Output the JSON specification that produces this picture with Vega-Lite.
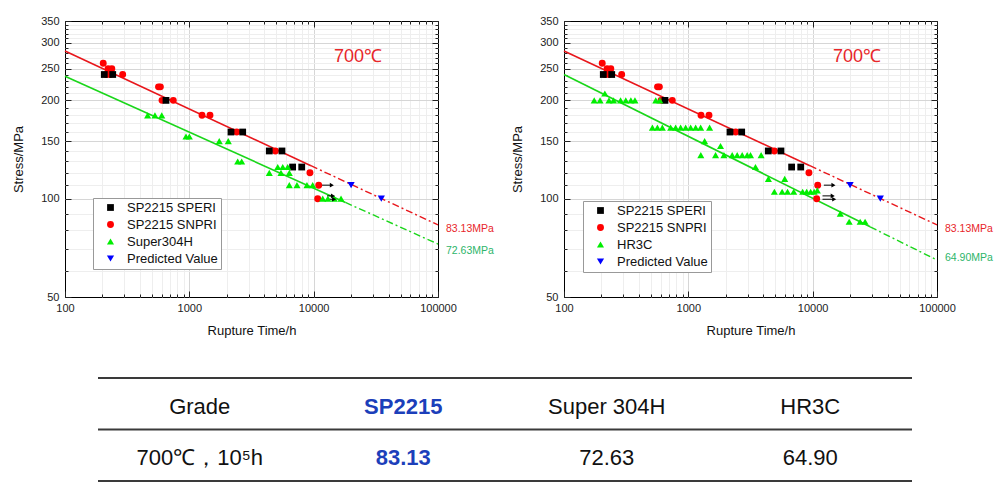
{
 "$schema": "https://vega.github.io/schema/vega-lite/v6.json",
 "background": "white",
 "padding": {"left": 11, "top": 14, "right": 5, "bottom": 5},
 "config": {
  "view": {"stroke": "#000000", "strokeWidth": 1},
  "axis": {"labelFont": "Liberation Sans", "labelFontSize": 11, "labelColor": "#222222", "titleFont": "Liberation Sans", "titleFontSize": 13, "titleFontWeight": "normal", "titleColor": "#111111", "tickColor": "#222222", "tickWidth": 1},
  "legend": {"labelFont": "Liberation Sans", "labelFontSize": 13, "labelColor": "#111111"},
  "text": {"font": "Liberation Sans"}
 },
 "datasets": {
  "pts1": [
   {"series": "SP2215 SNPRI", "t": 203, "s": 260}, {"series": "SP2215 SNPRI", "t": 222, "s": 250}, {"series": "SP2215 SNPRI", "t": 238, "s": 250},
   {"series": "SP2215 SNPRI", "t": 215, "s": 240}, {"series": "SP2215 SNPRI", "t": 230, "s": 240}, {"series": "SP2215 SNPRI", "t": 291, "s": 240},
   {"series": "SP2215 SNPRI", "t": 565, "s": 220}, {"series": "SP2215 SNPRI", "t": 585, "s": 220}, {"series": "SP2215 SNPRI", "t": 603, "s": 200},
   {"series": "SP2215 SNPRI", "t": 743, "s": 200}, {"series": "SP2215 SNPRI", "t": 1265, "s": 180}, {"series": "SP2215 SNPRI", "t": 1466, "s": 180},
   {"series": "SP2215 SNPRI", "t": 2405, "s": 160}, {"series": "SP2215 SNPRI", "t": 4920, "s": 140}, {"series": "SP2215 SNPRI", "t": 9333, "s": 120},
   {"series": "SP2215 SNPRI", "t": 10980, "s": 110}, {"series": "SP2215 SNPRI", "t": 10770, "s": 100},
   {"series": "SP2215 SPERI", "t": 207, "s": 240}, {"series": "SP2215 SPERI", "t": 242, "s": 240}, {"series": "SP2215 SPERI", "t": 649, "s": 200},
   {"series": "SP2215 SPERI", "t": 2163, "s": 160}, {"series": "SP2215 SPERI", "t": 2686, "s": 160}, {"series": "SP2215 SPERI", "t": 4396, "s": 140},
   {"series": "SP2215 SPERI", "t": 5559, "s": 140}, {"series": "SP2215 SPERI", "t": 6773, "s": 125}, {"series": "SP2215 SPERI", "t": 8017, "s": 125},
   {"series": "Super304H", "t": 462, "s": 180}, {"series": "Super304H", "t": 529, "s": 180}, {"series": "Super304H", "t": 600, "s": 180},
   {"series": "Super304H", "t": 940, "s": 155}, {"series": "Super304H", "t": 1000, "s": 155}, {"series": "Super304H", "t": 1741, "s": 150},
   {"series": "Super304H", "t": 2057, "s": 150}, {"series": "Super304H", "t": 2449, "s": 130}, {"series": "Super304H", "t": 2636, "s": 130},
   {"series": "Super304H", "t": 4396, "s": 120}, {"series": "Super304H", "t": 5140, "s": 125}, {"series": "Super304H", "t": 5640, "s": 125},
   {"series": "Super304H", "t": 6180, "s": 125}, {"series": "Super304H", "t": 5460, "s": 120}, {"series": "Super304H", "t": 6370, "s": 120},
   {"series": "Super304H", "t": 6370, "s": 110}, {"series": "Super304H", "t": 7340, "s": 110}, {"series": "Super304H", "t": 8830, "s": 110},
   {"series": "Super304H", "t": 9820, "s": 110}, {"series": "Super304H", "t": 11820, "s": 100}, {"series": "Super304H", "t": 13000, "s": 100},
   {"series": "Super304H", "t": 14650, "s": 100}, {"series": "Super304H", "t": 16600, "s": 100},
   {"series": "Predicted Value", "t": 20000, "s": 110}, {"series": "Predicted Value", "t": 35000, "s": 100}
  ],
  "pts2": [
   {"series": "SP2215 SNPRI", "t": 203, "s": 260}, {"series": "SP2215 SNPRI", "t": 222, "s": 250}, {"series": "SP2215 SNPRI", "t": 238, "s": 250},
   {"series": "SP2215 SNPRI", "t": 215, "s": 240}, {"series": "SP2215 SNPRI", "t": 230, "s": 240}, {"series": "SP2215 SNPRI", "t": 291, "s": 240},
   {"series": "SP2215 SNPRI", "t": 565, "s": 220}, {"series": "SP2215 SNPRI", "t": 585, "s": 220}, {"series": "SP2215 SNPRI", "t": 603, "s": 200},
   {"series": "SP2215 SNPRI", "t": 743, "s": 200}, {"series": "SP2215 SNPRI", "t": 1265, "s": 180}, {"series": "SP2215 SNPRI", "t": 1466, "s": 180},
   {"series": "SP2215 SNPRI", "t": 2405, "s": 160}, {"series": "SP2215 SNPRI", "t": 4920, "s": 140}, {"series": "SP2215 SNPRI", "t": 9333, "s": 120},
   {"series": "SP2215 SNPRI", "t": 10980, "s": 110}, {"series": "SP2215 SNPRI", "t": 10770, "s": 100},
   {"series": "SP2215 SPERI", "t": 207, "s": 240}, {"series": "SP2215 SPERI", "t": 242, "s": 240}, {"series": "SP2215 SPERI", "t": 649, "s": 200},
   {"series": "SP2215 SPERI", "t": 2163, "s": 160}, {"series": "SP2215 SPERI", "t": 2686, "s": 160}, {"series": "SP2215 SPERI", "t": 4396, "s": 140},
   {"series": "SP2215 SPERI", "t": 5559, "s": 140}, {"series": "SP2215 SPERI", "t": 6773, "s": 125}, {"series": "SP2215 SPERI", "t": 8017, "s": 125},
   {"series": "HR3C", "t": 175, "s": 200}, {"series": "HR3C", "t": 195, "s": 200}, {"series": "HR3C", "t": 230, "s": 200},
   {"series": "HR3C", "t": 250, "s": 200}, {"series": "HR3C", "t": 285, "s": 200}, {"series": "HR3C", "t": 314, "s": 200},
   {"series": "HR3C", "t": 345, "s": 200}, {"series": "HR3C", "t": 372, "s": 200}, {"series": "HR3C", "t": 547, "s": 200},
   {"series": "HR3C", "t": 590, "s": 200}, {"series": "HR3C", "t": 213, "s": 210},
   {"series": "HR3C", "t": 514, "s": 165}, {"series": "HR3C", "t": 564, "s": 165}, {"series": "HR3C", "t": 618, "s": 165},
   {"series": "HR3C", "t": 721, "s": 165}, {"series": "HR3C", "t": 791, "s": 165}, {"series": "HR3C", "t": 867, "s": 165},
   {"series": "HR3C", "t": 952, "s": 165}, {"series": "HR3C", "t": 1044, "s": 165}, {"series": "HR3C", "t": 1145, "s": 165},
   {"series": "HR3C", "t": 1256, "s": 165}, {"series": "HR3C", "t": 1483, "s": 165},
   {"series": "HR3C", "t": 1352, "s": 150}, {"series": "HR3C", "t": 1815, "s": 145},
   {"series": "HR3C", "t": 1260, "s": 136}, {"series": "HR3C", "t": 1656, "s": 136}, {"series": "HR3C", "t": 1933, "s": 136},
   {"series": "HR3C", "t": 2253, "s": 136}, {"series": "HR3C", "t": 2472, "s": 136}, {"series": "HR3C", "t": 2711, "s": 136},
   {"series": "HR3C", "t": 2974, "s": 136}, {"series": "HR3C", "t": 3162, "s": 136}, {"series": "HR3C", "t": 3850, "s": 136},
   {"series": "HR3C", "t": 3467, "s": 125}, {"series": "HR3C", "t": 4405, "s": 115}, {"series": "HR3C", "t": 5960, "s": 115},
   {"series": "HR3C", "t": 4920, "s": 105}, {"series": "HR3C", "t": 5680, "s": 105}, {"series": "HR3C", "t": 6280, "s": 105},
   {"series": "HR3C", "t": 7040, "s": 105}, {"series": "HR3C", "t": 8310, "s": 105}, {"series": "HR3C", "t": 8950, "s": 105},
   {"series": "HR3C", "t": 9630, "s": 105}, {"series": "HR3C", "t": 10280, "s": 105}, {"series": "HR3C", "t": 10900, "s": 106},
   {"series": "HR3C", "t": 16680, "s": 90}, {"series": "HR3C", "t": 19660, "s": 85}, {"series": "HR3C", "t": 24100, "s": 85},
   {"series": "HR3C", "t": 26400, "s": 85},
   {"series": "Predicted Value", "t": 20000, "s": 110}, {"series": "Predicted Value", "t": 35000, "s": 100}
  ],
  "lines1": [
   {"fit": "SP2215", "part": "solid", "t": 100, "s": 283.3}, {"fit": "SP2215", "part": "solid", "t": 9500, "s": 126.2},
   {"fit": "SP2215", "part": "dash", "t": 9500, "s": 126.2}, {"fit": "SP2215", "part": "dash", "t": 100000, "s": 83.13},
   {"fit": "other", "part": "solid", "t": 100, "s": 237}, {"fit": "other", "part": "solid", "t": 18000, "s": 97.4},
   {"fit": "other", "part": "dash", "t": 18000, "s": 97.4}, {"fit": "other", "part": "dash", "t": 100000, "s": 72.63}
  ],
  "lines2": [
   {"fit": "SP2215", "part": "solid", "t": 100, "s": 283.3}, {"fit": "SP2215", "part": "solid", "t": 9500, "s": 126.2},
   {"fit": "SP2215", "part": "dash", "t": 9500, "s": 126.2}, {"fit": "SP2215", "part": "dash", "t": 100000, "s": 83.13},
   {"fit": "other", "part": "solid", "t": 100, "s": 240}, {"fit": "other", "part": "solid", "t": 29000, "s": 82.0},
   {"fit": "other", "part": "dash", "t": 29000, "s": 82.0}, {"fit": "other", "part": "dash", "t": 100000, "s": 64.9}
  ],
  "arrows1": [
   {"s": 110, "t1": 11600, "t2": 14000}, {"s": 102, "t1": 12800, "t2": 14300}, {"s": 99.6, "t1": 12800, "t2": 14600}
  ],
  "arrows2": [
   {"s": 110, "t1": 12300, "t2": 14700}, {"s": 102, "t1": 12000, "t2": 14500}, {"s": 99.6, "t1": 12000, "t2": 14900}
  ],
  "notes": [
   {"t": 22700, "s": 272, "label": "700℃"}
  ],
  "table": [
   {"row": "head", "col": "Grade", "label": "Grade"},
   {"row": "head", "col": "SP2215", "label": "SP2215"},
   {"row": "head", "col": "Super 304H", "label": "Super 304H"},
   {"row": "head", "col": "HR3C", "label": "HR3C"},
   {"row": "val", "col": "Grade", "label": "700℃，10⁵h"},
   {"row": "val", "col": "SP2215", "label": "83.13"},
   {"row": "val", "col": "Super 304H", "label": "72.63"},
   {"row": "val", "col": "HR3C", "label": "64.90"}
  ],
  "tableLines": [{"pos": 0}, {"pos": 1}, {"pos": 2}]
 },
 "bounds": "full",
 "spacing": 39,
 "vconcat": [
  {
   "bounds": "flush",
   "spacing": 126,
   "resolve": {"scale": {"color": "independent", "shape": "independent", "size": "independent"}, "legend": {"color": "independent", "shape": "independent"}},
   "hconcat": [
    {
     "width": 373, "height": 276,
     "resolve": {"axis": {"x": "independent", "y": "independent"}},
     "layer": [
      {
       "data": {"name": "lines1"},
       "transform": [{"filter": "datum.fit == 'SP2215' && datum.part == 'solid'"}],
       "mark": {"type": "line", "color": "#e8161b", "strokeWidth": 1.6},
       "encoding": {
        "x": {"field": "t", "type": "quantitative", "scale": {"type": "log", "domain": [100, 100000], "nice": false},
              "axis": {"orient": "bottom", "values": [200,300,400,500,600,700,800,900,2000,3000,4000,5000,6000,7000,8000,9000,20000,30000,40000,50000,60000,70000,80000,90000], "grid": true, "gridColor": "#eeeeee", "ticks": true, "tickSize": -3, "labels": false, "domain": false, "title": null}},
        "y": {"field": "s", "type": "quantitative", "scale": {"type": "log", "domain": [50, 350], "nice": false},
              "axis": {"orient": "left", "values": [60,70,80,90,110,120,130,140,160,170,180,190,210,220,230,240,260,270,280,290,310,320,330,340], "grid": true, "gridColor": "#eeeeee", "ticks": true, "tickSize": -3, "labels": false, "domain": false, "title": null}}
       }
      },
      {
       "data": {"name": "lines1"},
       "transform": [{"filter": "datum.fit == 'other' && datum.part == 'solid'"}],
       "mark": {"type": "line", "color": "#1ad61a", "strokeWidth": 1.6},
       "encoding": {
        "x": {"field": "t", "type": "quantitative", "axis": {"orient": "bottom", "values": [1000, 10000], "grid": true, "gridColor": "#d6d6d6", "ticks": false, "labels": false, "domain": false, "title": null}},
        "y": {"field": "s", "type": "quantitative", "axis": {"orient": "left", "values": [100, 150, 200, 250, 300], "grid": true, "gridColor": "#d6d6d6", "ticks": false, "labels": false, "domain": false, "title": null}}
       }
      },
      {
       "data": {"name": "lines1"},
       "transform": [{"filter": "datum.fit == 'SP2215' && datum.part == 'dash'"}],
       "mark": {"type": "line", "color": "#e8161b", "strokeWidth": 1.4, "strokeDash": [7, 3, 2, 3]},
       "encoding": {
        "x": {"field": "t", "type": "quantitative", "axis": {"orient": "top", "values": [200,300,400,500,600,700,800,900,2000,3000,4000,5000,6000,7000,8000,9000,20000,30000,40000,50000,60000,70000,80000,90000], "grid": false, "tickSize": -3, "labels": false, "domain": false, "title": null}},
        "y": {"field": "s", "type": "quantitative", "axis": {"orient": "right", "values": [60,70,80,90,110,120,130,140,160,170,180,190,210,220,230,240,260,270,280,290,310,320,330,340], "grid": false, "tickSize": -3, "labels": false, "domain": false, "title": null}}
       }
      },
      {
       "data": {"name": "lines1"},
       "transform": [{"filter": "datum.fit == 'other' && datum.part == 'dash'"}],
       "mark": {"type": "line", "color": "#1ad61a", "strokeWidth": 1.4, "strokeDash": [7, 3, 2, 3]},
       "encoding": {
        "x": {"field": "t", "type": "quantitative", "axis": {"orient": "top", "values": [100, 1000, 10000, 100000], "grid": false, "tickSize": -6, "labels": false, "domain": false, "title": null}},
        "y": {"field": "s", "type": "quantitative", "axis": {"orient": "right", "values": [50, 100, 150, 200, 250, 300, 350], "grid": false, "tickSize": -6, "labels": false, "domain": false, "title": null}}
       }
      },
      {
       "data": {"name": "arrows1"},
       "mark": {"type": "rule", "color": "#000000", "strokeWidth": 1},
       "encoding": {
        "x": {"field": "t1", "type": "quantitative", "axis": {"orient": "bottom", "values": [100, 1000, 10000, 100000], "grid": false, "tickSize": -6, "labelPadding": 11, "format": "d", "labelFlush": false, "labelOverlap": false, "domain": false, "title": "Rupture Time/h", "titleY": 27}},
        "x2": {"field": "t2"},
        "y": {"field": "s", "type": "quantitative", "axis": {"orient": "left", "values": [50, 100, 150, 200, 250, 300, 350], "grid": false, "tickSize": -6, "labelPadding": 12, "format": "d", "labelFlush": false, "labelOverlap": false, "domain": false, "title": "Stress/MPa", "titleX": -40}}
       }
      },
      {
       "data": {"name": "pts1"},
       "mark": {"type": "point", "filled": true, "opacity": 1},
       "encoding": {
        "x": {"field": "t", "type": "quantitative", "axis": null},
        "y": {"field": "s", "type": "quantitative", "axis": null},
        "color": {"field": "series", "type": "nominal",
                  "scale": {"domain": ["SP2215 SPERI", "SP2215 SNPRI", "Super304H", "Predicted Value"], "range": ["#000000", "#ff0000", "#00ee00", "#0000ff"]},
                  "legend": {"orient": "none", "legendX": 28, "legendY": 177, "direction": "vertical", "title": null, "padding": 3, "strokeColor": "#999999", "fillColor": "#ffffff", "symbolSize": 25, "rowPadding": 3, "symbolOffset": 8, "labelOffset": 10}},
        "shape": {"field": "series", "type": "nominal",
                  "scale": {"domain": ["SP2215 SPERI", "SP2215 SNPRI", "Super304H", "Predicted Value"], "range": ["square", "circle", "triangle-up", "triangle-down"]},
                  "legend": {"orient": "none", "legendX": 28, "legendY": 177, "direction": "vertical", "title": null, "padding": 3, "strokeColor": "#999999", "fillColor": "#ffffff", "symbolSize": 25, "rowPadding": 3, "symbolOffset": 8, "labelOffset": 10}},
        "size": {"field": "series", "type": "nominal",
                 "scale": {"domain": ["SP2215 SPERI", "SP2215 SNPRI", "Super304H", "Predicted Value"], "range": [46, 52, 72, 72]}, "legend": null}
       }
      },
      {
       "data": {"name": "arrows1"},
       "mark": {"type": "point", "shape": "triangle-right", "filled": true, "color": "#000000", "opacity": 1, "size": 22},
       "encoding": {
        "x": {"field": "t2", "type": "quantitative", "axis": null},
        "y": {"field": "s", "type": "quantitative", "axis": null}
       }
      },
      {
       "data": {"name": "notes"},
       "mark": {"type": "text", "fontSize": 18, "color": "#e8262a", "align": "center", "baseline": "middle"},
       "encoding": {
        "x": {"field": "t", "type": "quantitative", "axis": null},
        "y": {"field": "s", "type": "quantitative", "axis": null},
        "text": {"field": "label"}
       }
      },
      {
       "data": {"values": [{"t": 100000, "s": 83.13, "label": "83.13MPa"}]},
       "mark": {"type": "text", "fontSize": 10.5, "color": "#e8262a", "align": "left", "baseline": "middle", "dx": 8, "dy": 4},
       "encoding": {
        "x": {"field": "t", "type": "quantitative", "axis": null},
        "y": {"field": "s", "type": "quantitative", "axis": null},
        "text": {"field": "label"}
       }
      },
      {
       "data": {"values": [{"t": 100000, "s": 72.63, "label": "72.63MPa"}]},
       "mark": {"type": "text", "fontSize": 10.5, "color": "#2db56a", "align": "left", "baseline": "middle", "dx": 8, "dy": 7},
       "encoding": {
        "x": {"field": "t", "type": "quantitative", "axis": null},
        "y": {"field": "s", "type": "quantitative", "axis": null},
        "text": {"field": "label"}
       }
      }
     ]
    },
    {
     "width": 373, "height": 276,
     "resolve": {"axis": {"x": "independent", "y": "independent"}},
     "layer": [
      {
       "data": {"name": "lines2"},
       "transform": [{"filter": "datum.fit == 'SP2215' && datum.part == 'solid'"}],
       "mark": {"type": "line", "color": "#e8161b", "strokeWidth": 1.6},
       "encoding": {
        "x": {"field": "t", "type": "quantitative", "scale": {"type": "log", "domain": [100, 100000], "nice": false},
              "axis": {"orient": "bottom", "values": [200,300,400,500,600,700,800,900,2000,3000,4000,5000,6000,7000,8000,9000,20000,30000,40000,50000,60000,70000,80000,90000], "grid": true, "gridColor": "#eeeeee", "ticks": true, "tickSize": -3, "labels": false, "domain": false, "title": null}},
        "y": {"field": "s", "type": "quantitative", "scale": {"type": "log", "domain": [50, 350], "nice": false},
              "axis": {"orient": "left", "values": [60,70,80,90,110,120,130,140,160,170,180,190,210,220,230,240,260,270,280,290,310,320,330,340], "grid": true, "gridColor": "#eeeeee", "ticks": true, "tickSize": -3, "labels": false, "domain": false, "title": null}}
       }
      },
      {
       "data": {"name": "lines2"},
       "transform": [{"filter": "datum.fit == 'other' && datum.part == 'solid'"}],
       "mark": {"type": "line", "color": "#1ad61a", "strokeWidth": 1.6},
       "encoding": {
        "x": {"field": "t", "type": "quantitative", "axis": {"orient": "bottom", "values": [1000, 10000], "grid": true, "gridColor": "#d6d6d6", "ticks": false, "labels": false, "domain": false, "title": null}},
        "y": {"field": "s", "type": "quantitative", "axis": {"orient": "left", "values": [100, 150, 200, 250, 300], "grid": true, "gridColor": "#d6d6d6", "ticks": false, "labels": false, "domain": false, "title": null}}
       }
      },
      {
       "data": {"name": "lines2"},
       "transform": [{"filter": "datum.fit == 'SP2215' && datum.part == 'dash'"}],
       "mark": {"type": "line", "color": "#e8161b", "strokeWidth": 1.4, "strokeDash": [7, 3, 2, 3]},
       "encoding": {
        "x": {"field": "t", "type": "quantitative", "axis": {"orient": "top", "values": [200,300,400,500,600,700,800,900,2000,3000,4000,5000,6000,7000,8000,9000,20000,30000,40000,50000,60000,70000,80000,90000], "grid": false, "tickSize": -3, "labels": false, "domain": false, "title": null}},
        "y": {"field": "s", "type": "quantitative", "axis": {"orient": "right", "values": [60,70,80,90,110,120,130,140,160,170,180,190,210,220,230,240,260,270,280,290,310,320,330,340], "grid": false, "tickSize": -3, "labels": false, "domain": false, "title": null}}
       }
      },
      {
       "data": {"name": "lines2"},
       "transform": [{"filter": "datum.fit == 'other' && datum.part == 'dash'"}],
       "mark": {"type": "line", "color": "#1ad61a", "strokeWidth": 1.4, "strokeDash": [7, 3, 2, 3]},
       "encoding": {
        "x": {"field": "t", "type": "quantitative", "axis": {"orient": "top", "values": [100, 1000, 10000, 100000], "grid": false, "tickSize": -6, "labels": false, "domain": false, "title": null}},
        "y": {"field": "s", "type": "quantitative", "axis": {"orient": "right", "values": [50, 100, 150, 200, 250, 300, 350], "grid": false, "tickSize": -6, "labels": false, "domain": false, "title": null}}
       }
      },
      {
       "data": {"name": "arrows2"},
       "mark": {"type": "rule", "color": "#000000", "strokeWidth": 1},
       "encoding": {
        "x": {"field": "t1", "type": "quantitative", "axis": {"orient": "bottom", "values": [100, 1000, 10000, 100000], "grid": false, "tickSize": -6, "labelPadding": 11, "format": "d", "labelFlush": false, "labelOverlap": false, "domain": false, "title": "Rupture Time/h", "titleY": 27}},
        "x2": {"field": "t2"},
        "y": {"field": "s", "type": "quantitative", "axis": {"orient": "left", "values": [50, 100, 150, 200, 250, 300, 350], "grid": false, "tickSize": -6, "labelPadding": 12, "format": "d", "labelFlush": false, "labelOverlap": false, "domain": false, "title": "Stress/MPa", "titleX": -40}}
       }
      },
      {
       "data": {"name": "pts2"},
       "mark": {"type": "point", "filled": true, "opacity": 1},
       "encoding": {
        "x": {"field": "t", "type": "quantitative", "axis": null},
        "y": {"field": "s", "type": "quantitative", "axis": null},
        "color": {"field": "series", "type": "nominal",
                  "scale": {"domain": ["SP2215 SPERI", "SP2215 SNPRI", "HR3C", "Predicted Value"], "range": ["#000000", "#ff0000", "#00ee00", "#0000ff"]},
                  "legend": {"orient": "none", "legendX": 19, "legendY": 180, "direction": "vertical", "title": null, "padding": 3, "strokeColor": "#999999", "fillColor": "#ffffff", "symbolSize": 25, "rowPadding": 3, "symbolOffset": 8, "labelOffset": 10}},
        "shape": {"field": "series", "type": "nominal",
                  "scale": {"domain": ["SP2215 SPERI", "SP2215 SNPRI", "HR3C", "Predicted Value"], "range": ["square", "circle", "triangle-up", "triangle-down"]},
                  "legend": {"orient": "none", "legendX": 19, "legendY": 180, "direction": "vertical", "title": null, "padding": 3, "strokeColor": "#999999", "fillColor": "#ffffff", "symbolSize": 25, "rowPadding": 3, "symbolOffset": 8, "labelOffset": 10}},
        "size": {"field": "series", "type": "nominal",
                 "scale": {"domain": ["SP2215 SPERI", "SP2215 SNPRI", "HR3C", "Predicted Value"], "range": [46, 52, 72, 72]}, "legend": null}
       }
      },
      {
       "data": {"name": "arrows2"},
       "mark": {"type": "point", "shape": "triangle-right", "filled": true, "color": "#000000", "opacity": 1, "size": 22},
       "encoding": {
        "x": {"field": "t2", "type": "quantitative", "axis": null},
        "y": {"field": "s", "type": "quantitative", "axis": null}
       }
      },
      {
       "data": {"name": "notes"},
       "mark": {"type": "text", "fontSize": 18, "color": "#e8262a", "align": "center", "baseline": "middle"},
       "encoding": {
        "x": {"field": "t", "type": "quantitative", "axis": null},
        "y": {"field": "s", "type": "quantitative", "axis": null},
        "text": {"field": "label"}
       }
      },
      {
       "data": {"values": [{"t": 100000, "s": 83.13, "label": "83.13MPa"}]},
       "mark": {"type": "text", "fontSize": 10.5, "color": "#e8262a", "align": "left", "baseline": "middle", "dx": 8, "dy": 4},
       "encoding": {
        "x": {"field": "t", "type": "quantitative", "axis": null},
        "y": {"field": "s", "type": "quantitative", "axis": null},
        "text": {"field": "label"}
       }
      },
      {
       "data": {"values": [{"t": 100000, "s": 64.9, "label": "64.90MPa"}]},
       "mark": {"type": "text", "fontSize": 10.5, "color": "#2db56a", "align": "left", "baseline": "middle", "dx": 8, "dy": -2},
       "encoding": {
        "x": {"field": "t", "type": "quantitative", "axis": null},
        "y": {"field": "s", "type": "quantitative", "axis": null},
        "text": {"field": "label"}
       }
      }
     ]
    }
   ]
  },
  {
   "bounds": "flush",
   "spacing": 0,
   "hconcat": [
    {
     "width": 33, "height": 10,
     "view": {"stroke": null},
     "data": {"values": [{"k": 1}]},
     "mark": {"type": "point", "opacity": 0},
     "encoding": {}
    },
    {
     "width": 814, "height": 103,
     "view": {"stroke": null},
     "resolve": {"scale": {"y": "independent"}},
     "layer": [
      {
       "data": {"name": "tableLines"},
       "mark": {"type": "rule", "color": "#3a3a3a", "strokeWidth": 2},
       "encoding": {
        "y": {"field": "pos", "type": "quantitative", "scale": {"domain": [0, 2], "nice": false}, "axis": null}
       }
      },
      {
       "data": {"name": "table"},
       "transform": [{"filter": "datum.col != 'SP2215'"}],
       "mark": {"type": "text", "fontSize": 22, "color": "#111111", "align": "center", "baseline": "middle", "dy": 3},
       "encoding": {
        "x": {"field": "col", "type": "nominal", "sort": null, "scale": {"type": "point", "domain": ["Grade", "SP2215", "Super 304H", "HR3C"], "padding": 0.5}, "axis": null},
        "y": {"field": "row", "type": "nominal", "scale": {"type": "point", "domain": ["head", "val"], "padding": 0.5}, "axis": null},
        "text": {"field": "label"}
       }
      },
      {
       "data": {"name": "table"},
       "transform": [{"filter": "datum.col == 'SP2215'"}],
       "mark": {"type": "text", "fontSize": 22, "fontWeight": "bold", "color": "#1c3fba", "align": "center", "baseline": "middle", "dy": 3},
       "encoding": {
        "x": {"field": "col", "type": "nominal", "sort": null, "scale": {"type": "point", "domain": ["Grade", "SP2215", "Super 304H", "HR3C"], "padding": 0.5}, "axis": null},
        "y": {"field": "row", "type": "nominal", "scale": {"type": "point", "domain": ["head", "val"], "padding": 0.5}, "axis": null},
        "text": {"field": "label"}
       }
      }
     ]
    }
   ]
  }
 ]
}
